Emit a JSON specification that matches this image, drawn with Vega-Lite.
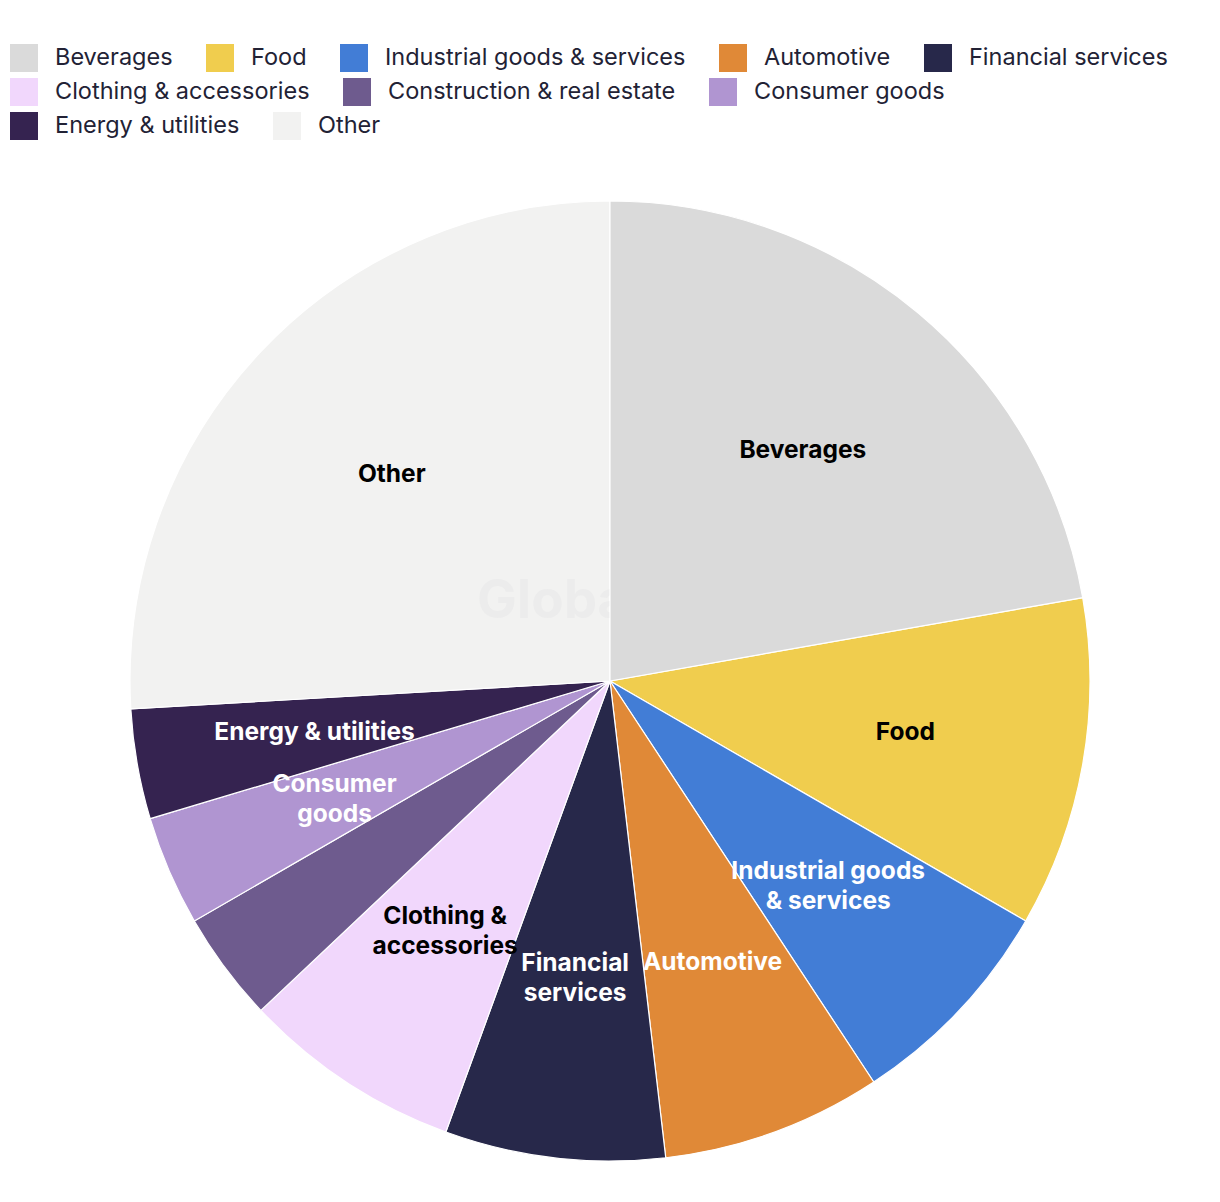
{
  "$schema": "https://vega.github.io/schema/vega-lite/v6.json",
  "width": 1220,
  "height": 960,
  "autosize": {"type": "pad"},
  "padding": {"top": 44, "left": 0, "right": 0, "bottom": 42},
  "background": "white",
  "data": {
    "values": [
      {"category": "Beverages", "label": "Beverages", "count": 6, "order": 1},
      {"category": "Food", "label": "Food", "count": 3, "order": 2},
      {"category": "Industrial goods & services", "label": "Industrial goods\n& services", "count": 2, "order": 3},
      {"category": "Automotive", "label": "Automotive", "count": 2, "order": 4},
      {"category": "Financial services", "label": "Financial\nservices", "count": 2, "order": 5},
      {"category": "Clothing & accessories", "label": "Clothing &\naccessories", "count": 2, "order": 6},
      {"category": "Construction & real estate", "label": "", "count": 1, "order": 7},
      {"category": "Consumer goods", "label": "Consumer\ngoods", "count": 1, "order": 8},
      {"category": "Energy & utilities", "label": "Energy & utilities", "count": 1, "order": 9},
      {"category": "Other", "label": "Other", "count": 7, "order": 10}
    ]
  },
  "layer": [
    {
      "mark": {"type": "arc", "stroke": "white", "strokeWidth": 1.2},
      "encoding": {
        "theta": {"field": "count", "type": "quantitative", "stack": true},
        "order": {"field": "order", "type": "quantitative"},
        "color": {
          "field": "category",
          "type": "nominal",
          "scale": {
            "domain": ["Beverages", "Food", "Industrial goods & services", "Automotive", "Financial services", "Clothing & accessories", "Construction & real estate", "Consumer goods", "Energy & utilities", "Other"],
            "range": ["#dadada", "#f0cd4e", "#427dd6", "#e08937", "#27284a", "#f1d7fc", "#6e5b8e", "#b095d1", "#352350", "#f2f2f1"]
          },
          "legend": null
        }
      }
    },
    {
      "data": {"values": [{"t": "GlobalData"}]},
      "mark": {"type": "text", "font": "Inter", "fontSize": 53, "fontWeight": "bold", "color": "#ececec", "align": "left", "baseline": "middle", "dx": -133, "dy": -79},
      "encoding": {"text": {"field": "t"}}
    },
    {
      "transform": [{"filter": "datum.category === 'Beverages'"}],
      "mark": {"type": "arc", "stroke": "white", "strokeWidth": 1.2, "color": "#dadada"},
      "encoding": {
        "theta": {"field": "count", "type": "quantitative", "stack": true},
        "order": {"field": "order", "type": "quantitative"}
      }
    },
    {
      "mark": {"type": "text", "radius": 300, "font": "Inter", "fontSize": 24.5, "fontWeight": "bold", "align": "center", "baseline": "middle"},
      "encoding": {
        "theta": {"field": "count", "type": "quantitative", "stack": true},
        "order": {"field": "order", "type": "quantitative"},
        "text": {"condition": {"test": "indexof(datum.label, '\\n') < 0", "field": "label"}, "value": ""},
        "color": {
          "field": "category",
          "type": "nominal",
          "scale": {
            "domain": ["Beverages", "Food", "Industrial goods & services", "Automotive", "Financial services", "Clothing & accessories", "Construction & real estate", "Consumer goods", "Energy & utilities", "Other"],
            "range": ["#000000", "#000000", "#ffffff", "#ffffff", "#ffffff", "#000000", "#ffffff", "#ffffff", "#ffffff", "#000000"]
          },
          "legend": null
        }
      }
    },
    {
      "mark": {"type": "text", "radius": 300, "font": "Inter", "fontSize": 24.5, "fontWeight": "bold", "lineBreak": "\n", "lineHeight": 30, "align": "center", "baseline": "middle", "dy": -15},
      "encoding": {
        "theta": {"field": "count", "type": "quantitative", "stack": true},
        "order": {"field": "order", "type": "quantitative"},
        "text": {"condition": {"test": "indexof(datum.label, '\\n') >= 0", "field": "label"}, "value": ""},
        "color": {
          "field": "category",
          "type": "nominal",
          "scale": {
            "domain": ["Beverages", "Food", "Industrial goods & services", "Automotive", "Financial services", "Clothing & accessories", "Construction & real estate", "Consumer goods", "Energy & utilities", "Other"],
            "range": ["#000000", "#000000", "#ffffff", "#ffffff", "#ffffff", "#000000", "#ffffff", "#ffffff", "#ffffff", "#000000"]
          },
          "legend": null
        }
      }
    },
    {
      "transform": [{"filter": {"field": "category", "oneOf": ["Beverages", "Food", "Industrial goods & services", "Automotive", "Financial services"]}}],
      "mark": {"type": "arc", "opacity": 0, "strokeWidth": 0},
      "encoding": {
        "theta": {"field": "count", "type": "quantitative", "stack": true},
        "order": {"field": "order", "type": "quantitative"},
        "color": {
          "field": "category",
          "type": "nominal",
          "scale": {
            "domain": ["Beverages", "Food", "Industrial goods & services", "Automotive", "Financial services"],
            "range": ["#dadada", "#f0cd4e", "#427dd6", "#e08937", "#27284a"]
          },
          "legend": {"legendX": 10, "legendY": -157}
        }
      }
    },
    {
      "transform": [{"filter": {"field": "category", "oneOf": ["Clothing & accessories", "Construction & real estate", "Consumer goods"]}}],
      "mark": {"type": "arc", "opacity": 0, "strokeWidth": 0},
      "encoding": {
        "theta": {"field": "count", "type": "quantitative", "stack": true},
        "order": {"field": "order", "type": "quantitative"},
        "color": {
          "field": "category",
          "type": "nominal",
          "scale": {
            "domain": ["Clothing & accessories", "Construction & real estate", "Consumer goods"],
            "range": ["#f1d7fc", "#6e5b8e", "#b095d1"]
          },
          "legend": {"legendX": 10, "legendY": -123}
        }
      }
    },
    {
      "transform": [{"filter": {"field": "category", "oneOf": ["Energy & utilities", "Other"]}}],
      "mark": {"type": "arc", "opacity": 0, "strokeWidth": 0},
      "encoding": {
        "theta": {"field": "count", "type": "quantitative", "stack": true},
        "order": {"field": "order", "type": "quantitative"},
        "color": {
          "field": "category",
          "type": "nominal",
          "scale": {
            "domain": ["Energy & utilities", "Other"],
            "range": ["#352350", "#f2f2f1"]
          },
          "legend": {"legendX": 10, "legendY": -89}
        }
      }
    }
  ],
  "resolve": {"scale": {"color": "independent", "theta": "shared"}, "legend": {"color": "independent"}},
  "config": {
    "view": {"stroke": null},
    "legend": {
      "orient": "none",
      "direction": "horizontal",
      "title": null,
      "symbolType": "square",
      "symbolSize": 784,
      "symbolOpacity": 1,
      "symbolStrokeWidth": 0,
      "labelFont": "Inter",
      "labelFontSize": 23.5,
      "labelColor": "#222235",
      "labelOffset": 17,
      "columnPadding": 33,
      "labelLimit": 0,
      "padding": 0
    }
  }
}
